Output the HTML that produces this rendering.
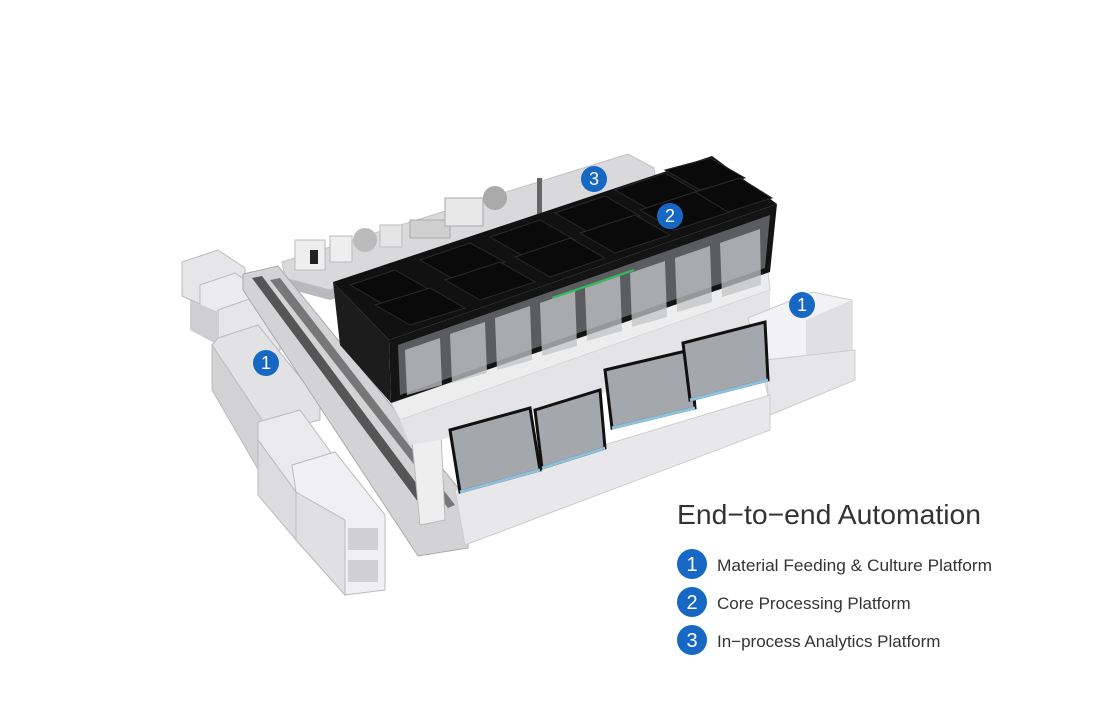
<!DOCTYPE html>
<html><head><meta charset="utf-8"><style>
body{margin:0;background:#fff;width:1100px;height:720px;overflow:hidden;font-family:"Liberation Sans",sans-serif}
svg{position:absolute;left:0;top:0}
</style></head><body>
<svg width="1100" height="720" viewBox="0 0 1100 720">
<!-- back analytics platform -->
<polygon points="282,262 628,154 654,168 656,185 330,290 285,278" fill="#d9d9db" stroke="#c2c2c4"/>
<polygon points="285,278 330,290 656,185 656,195 330,300 285,288" fill="#b9b9bb"/>
<rect x="295" y="240" width="30" height="30" fill="#eee" stroke="#bbb"/>
<rect x="310" y="250" width="8" height="14" fill="#222"/>
<rect x="330" y="236" width="22" height="26" fill="#eee" stroke="#bbb"/>
<circle cx="365" cy="240" r="12" fill="#bbb"/>
<rect x="380" y="225" width="22" height="22" fill="#e4e4e4" stroke="#bbb"/>
<rect x="410" y="220" width="40" height="18" fill="#d0d0d0" stroke="#aaa"/>
<rect x="445" y="198" width="38" height="28" fill="#e8e8e8" stroke="#aaa"/>
<circle cx="495" cy="198" r="12" fill="#aaa"/>
<rect x="537" y="178" width="5" height="40" fill="#666"/>
<!-- left cabinets -->
<polygon points="182,262 218,250 245,268 245,300 218,312 182,296" fill="#e6e6e8" stroke="#bbb"/>
<polygon points="200,285 235,273 262,292 262,330 235,340 200,322" fill="#ebebed" stroke="#bbb"/>
<polygon points="218,310 252,298 280,318 280,350 252,362 218,345" fill="#e6e6e8" stroke="#bbb"/>
<polygon points="190,300 218,312 218,345 190,330" fill="#cfcfd1"/>
<polygon points="218,338 258,325 320,402 320,420 270,432 212,345" fill="#e2e2e4" stroke="#bbb"/>
<polygon points="212,345 270,432 270,490 212,390" fill="#d2d2d4" stroke="#bbb"/>
<polygon points="258,422 300,410 340,465 340,480 296,492 258,440" fill="#eaeaec" stroke="#bbb"/>
<polygon points="258,440 296,492 296,540 258,495" fill="#dcdcde" stroke="#bbb"/>
<polygon points="292,465 335,452 385,515 385,590 345,595 296,540 296,492" fill="#f0f0f2" stroke="#bbb"/>
<polygon points="296,492 345,520 345,595 296,540" fill="#e0e0e2" stroke="#bbb"/>
<rect x="348" y="528" width="30" height="22" fill="#d0d0d2"/>
<rect x="348" y="560" width="30" height="22" fill="#d0d0d2"/>
<!-- conveyor -->
<polygon points="243,274 278,266 468,500 468,548 418,556 243,290" fill="#d3d3d5" stroke="#aaa"/>
<polygon points="252,278 262,276 440,515 430,518" fill="#555"/>
<polygon points="270,280 280,278 455,505 448,508" fill="#777"/>
<polygon points="410,420 440,412 445,520 420,525" fill="#eee" stroke="#bbb"/>
<!-- core base -->
<polygon points="391,403 768,272 770,290 400,420" fill="#ededee" stroke="#ccc"/>
<polygon points="400,420 770,290 770,345 440,440 410,445" fill="#e4e4e6"/>
<!-- black box -->
<polygon points="333,282 712,156 777,204 389,340" fill="#111"/>
<polygon points="389,340 777,204 770,272 391,403" fill="#141414"/>
<polygon points="333,282 389,340 391,403 340,345" fill="#1c1c1c"/>
<polygon points="398,345 770,215 765,268 400,395" fill="#5a5c60"/>
<g fill="#c2c4c7" opacity=".75">
<polygon points="405,350 440,338 442,385 407,395"/>
<polygon points="450,334 485,322 487,373 452,383"/>
<polygon points="495,318 530,306 532,360 497,370"/>
<polygon points="540,303 575,291 577,346 542,356"/>
<polygon points="585,288 620,276 622,331 587,341"/>
<polygon points="630,273 665,261 667,317 632,327"/>
<polygon points="675,258 710,246 712,302 677,312"/>
<polygon points="720,243 760,229 761,285 722,297"/>
</g>
<g fill="#0a0a0a" stroke="#2a2a2a">
<polygon points="350,285 395,270 430,290 385,305"/>
<polygon points="375,305 430,288 465,308 410,325"/>
<polygon points="420,260 470,243 505,262 455,280"/>
<polygon points="445,280 500,262 535,282 480,300"/>
<polygon points="490,237 540,220 575,240 525,257"/>
<polygon points="515,257 570,238 605,258 550,277"/>
<polygon points="555,213 605,196 640,216 590,233"/>
<polygon points="580,233 635,215 670,235 615,253"/>
<polygon points="615,190 665,173 700,193 650,210"/>
<polygon points="640,210 695,192 730,212 675,230"/>
<polygon points="665,170 710,158 745,178 700,190"/>
<polygon points="695,192 740,178 772,198 728,212"/>
</g>
<line x1="552" y1="298" x2="634" y2="270" stroke="#2fbf5a" stroke-width="2"/>
<!-- right cabinets -->
<polygon points="748,318 812,292 852,300 852,370 806,392 768,395" fill="#f2f2f4" stroke="#ccc"/>
<polygon points="806,320 852,300 852,370 806,392" fill="#e0e0e2"/>
<polygon points="765,360 855,350 855,380 770,415" fill="#e6e6e8" stroke="#ccc"/>
<!-- front machines base -->
<polygon points="455,490 770,395 770,430 465,545" fill="#e8e8ea" stroke="#ccc"/>
<g fill="#a4a8ad" stroke="#111" stroke-width="3">
<polygon points="450,430 530,408 540,470 460,492"/>
<polygon points="535,410 600,390 605,448 542,468"/>
<polygon points="605,370 690,350 695,408 612,428"/>
<polygon points="683,343 765,322 768,380 690,400"/>
</g>
<g fill="none" stroke="#8fc0dc" stroke-width="3">
<line x1="460" y1="492" x2="540" y2="470"/><line x1="542" y1="468" x2="605" y2="448"/>
<line x1="612" y1="428" x2="695" y2="408"/><line x1="690" y1="400" x2="768" y2="380"/>
</g>
<!-- badges -->
<g fill="#1668c4"><circle cx="594" cy="179" r="13"/><circle cx="670" cy="216" r="13"/><circle cx="802" cy="305" r="13"/><circle cx="266" cy="363" r="13"/>
<circle cx="692" cy="564" r="15"/><circle cx="692" cy="602" r="15"/><circle cx="692" cy="640" r="15"/></g>
<g fill="#fff" font-family="Liberation Sans" font-size="18" text-anchor="middle">
<text x="594" y="185">3</text><text x="670" y="222">2</text><text x="802" y="311">1</text><text x="266" y="369">1</text>
<text x="692" y="571" font-size="20">1</text><text x="692" y="609" font-size="20">2</text><text x="692" y="647" font-size="20">3</text></g>
<text x="677" y="524" font-size="28" fill="#333" textLength="304" lengthAdjust="spacingAndGlyphs">End−to−end Automation</text>
<g font-size="17" fill="#333"><text x="717" y="571" textLength="275" lengthAdjust="spacingAndGlyphs">Material Feeding &amp; Culture Platform</text>
<text x="717" y="609">Core Processing Platform</text><text x="717" y="647">In−process Analytics Platform</text></g>
</svg>
</body></html>
